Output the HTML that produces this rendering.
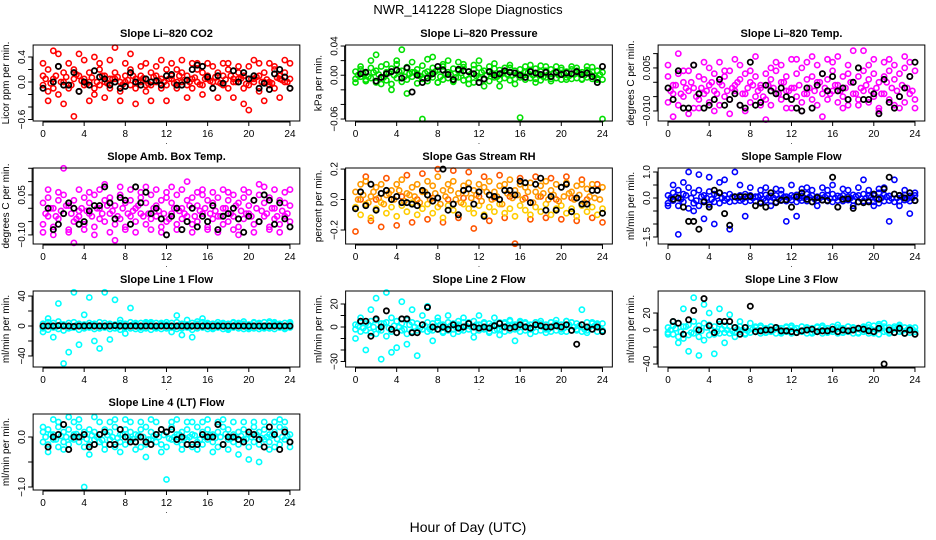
<!DOCTYPE html>
<html><head><meta charset="utf-8">
<style>
html,body{margin:0;padding:0;background:#fff;}
svg{display:block;font-family:"Liberation Sans",sans-serif;}
</style></head>
<body>
<svg id="chart" width="936" height="540" viewBox="0 0 936 540" xmlns="http://www.w3.org/2000/svg">
<rect width="936" height="540" fill="#fff"/>
<text x="468" y="14" text-anchor="middle" font-size="13">NWR_141228  Slope Diagnostics</text>
<text x="468" y="532" text-anchor="middle" font-size="14">Hour of Day (UTC)</text>
</svg>
<script>
const hours = [0,0.5,1,1.5,2,2.5,3,3.5,4,4.5,5,5.5,6,6.5,7,7.5,8,8.5,9,9.5,10,10.5,11,11.5,12,12.5,13,13.5,14,14.5,15,15.5,16,16.5,17,17.5,18,18.5,19,19.5,20,20.5,21,21.5,22,22.5,23,23.5,24];
const hoursMid = [0.25,0.75,1.25,1.75,2.25,2.75,3.25,3.75,4.25,4.75,5.25,5.75,6.25,6.75,7.25,7.75,8.25,8.75,9.25,9.75,10.25,10.75,11.25,11.75,12.25,12.75,13.25,13.75,14.25,14.75,15.25,15.75,16.25,16.75,17.25,17.75,18.25,18.75,19.25,19.75,20.25,20.75,21.25,21.75,22.25,22.75,23.25,23.75];
const xTicks = [0,4,8,12,16,20,24];
const xTickLabels = ["0","4","8","12","16","20","24"];

const titles = ["Slope Li\u2013820 CO2","Slope Li\u2013820 Pressure","Slope Li\u2013820 Temp.","Slope Amb. Box Temp.","Slope Gas Stream RH","Slope Sample Flow","Slope Line 1 Flow","Slope Line 2 Flow","Slope Line 3 Flow","Slope Line 4 (LT) Flow"];
const yLabels = ["Licor ppm per min.","kPa per min.","degrees C per min.","degrees C per min.","percent per min.","ml/min per min.","ml/min per min.","ml/min per min.","ml/min per min.","ml/min per min."];
const yRanges = [[-0.624,0.592],[-0.0627,0.0414],[-0.0135,0.013],[-0.134,0.151],[-0.292,0.207],[-1.77,1.154],[-54.7,46.7],[-34.8,31.3],[-43.5,45.9],[-1.06,0.46]];
const yTicks = [[-0.6,-0.4,-0.2,0,0.2,0.4],[-0.06,-0.04,-0.02,0,0.02,0.04],[-0.01,-0.005,0,0.005,0.01],[-0.1,-0.05,0,0.05,0.1,0.15],[-0.2,0,0.2],[-1.5,-1,-0.5,0,0.5,1],[-40,-20,0,20,40],[-30,-20,-10,0,10,20],[-40,-20,0,20],[-1,-0.5,0]];
const yTickLabels = [["\u22120.6","","","0.0","","0.4"],["\u22120.06","","","0.00","","0.04"],["\u22120.010","","","0.005",""],["\u22120.10","","","0.05","",""],["\u22120.2","0.0","0.2"],["\u22121.5","","","0.0","","1.0"],["\u221240","","0","","40"],["\u221230","","","0","","20"],["\u221240","","0","20"],["\u22121.0","","0.0"]];
const colorsA = ["#ff0000","#00e000","#ff00ff","#ff00ff","#ff9900","#0000ff","#00ffff","#00ffff","#00ffff","#00ffff"];
const colorsB = ["#ff0000","#00e000","#ff00ff","#ff00ff","#ffcc00","#0000ff","#00ffff","#00ffff","#00ffff","#00ffff"];
const colorsC = ["#ff0000","#00e000","#ff00ff","#ff00ff","#ff5500","#0000ff","#00ffff","#00ffff","#00ffff","#00ffff"];

const co2A = [0.1,0.2,-0.1,0.25,0.15,-0.05,0.2,0.1,0.05,0.15,-0.1,0.2,0.1,0.05,0.15,0.0,0.1,0.2,0.05,0.1,-0.05,0.15,0.1,0.05,0.2,0.1,0.0,0.15,0.1,0.05,0.2,0.15,0.1,0.0,0.15,0.1,0.2,0.05,0.15,0.1,0.25,0.05,0.1,0.15,0.0,0.2,0.1,0.15,0.05];
const co2B = [-0.05,-0.15,0.05,-0.2,0.0,-0.1,0.05,-0.15,-0.05,0.0,-0.2,-0.05,0.0,-0.1,0.05,-0.15,0.0,-0.05,-0.1,0.0,-0.15,-0.05,0.0,-0.1,-0.05,0.05,-0.1,0.0,-0.05,-0.1,0.0,-0.05,0.05,-0.1,0.0,-0.05,-0.1,0.0,0.05,-0.1,-0.05,0.0,-0.15,0.0,-0.05,-0.1,0.05,0.0,-0.1];
const co2C = [0.3,-0.3,0.5,0.45,-0.35,0.3,-0.55,0.45,0.35,-0.3,0.4,0.3,-0.25,0.35,0.55,-0.3,0.3,0.45,-0.35,0.25,0.3,-0.3,0.25,0.35,-0.3,0.3,0.2,0.35,-0.25,0.3,0.3,-0.2,0.3,0.25,-0.25,0.3,0.3,-0.25,0.25,-0.35,-0.45,0.35,0.3,-0.3,0.3,0.25,-0.25,0.35,0.3];
const co2D = [0.05,-0.02,0.1,0.0,0.08,-0.05,0.12,0.02,-0.03,0.07,0.0,0.1,-0.02,0.05,0.08,-0.04,0.03,0.1,0.0,0.06,-0.03,0.08,0.02,0.0,0.05,-0.02,0.1,0.03,0.0,0.07,-0.04,0.05,0.02,0.08,-0.02,0.04,0.1,0.0,0.06,-0.03,0.05,0.08,0.0,0.04,-0.02,0.07,0.03,0.0];
const co2K = [-0.1,null,0.0,0.25,-0.05,-0.05,0.15,-0.15,0.0,-0.05,0.18,0.08,0.05,-0.05,0.0,-0.1,-0.07,0.15,0.0,-0.05,0.05,0.0,0.02,-0.05,0.1,0.12,-0.05,-0.05,0.03,0.2,0.27,0.25,0.08,-0.1,0.1,-0.02,null,0.18,0.0,0.15,0.05,0.1,-0.1,-0.02,-0.12,0.13,0.2,0.08,-0.1];

const presA = [0.005,0.008,0.003,0.01,0.006,0.012,0.004,0.009,0.015,0.006,0.011,0.004,0.008,0.013,0.005,0.01,0.007,0.012,0.004,0.009,0.006,0.011,0.005,0.008,0.01,0.006,0.004,0.009,0.007,0.005,0.01,0.006,0.008,0.004,0.007,0.009,0.005,0.006,0.008,0.004,0.007,0.005,0.008,0.006,0.004,0.007,0.005,0.006,0.004];
const presB = [-0.005,-0.002,-0.008,-0.004,-0.01,-0.003,-0.007,-0.012,-0.004,-0.009,-0.006,-0.002,-0.011,-0.005,-0.008,-0.003,-0.01,-0.006,-0.004,-0.009,-0.003,-0.007,-0.005,-0.01,-0.004,-0.006,-0.008,-0.003,-0.006,-0.004,-0.007,-0.005,-0.003,-0.006,-0.004,-0.005,-0.007,-0.003,-0.005,-0.004,-0.006,-0.003,-0.005,-0.004,-0.006,-0.003,-0.005,-0.004,-0.006];
const presC = [-0.01,0.012,-0.006,0.02,0.028,-0.012,0.015,-0.02,0.02,0.035,-0.025,0.018,0.002,-0.06,0.022,0.025,-0.01,0.015,0.02,-0.008,0.018,0.015,-0.012,0.014,0.02,-0.015,0.012,0.016,-0.015,0.01,0.014,-0.012,-0.058,0.012,0.014,-0.01,0.013,0.012,-0.008,0.012,0.01,-0.006,0.012,0.01,-0.005,0.012,0.011,-0.006,-0.06];
const presD = [0.0,0.002,-0.002,0.004,0.001,-0.003,0.003,0.0,0.005,-0.002,0.002,0.004,-0.001,0.003,0.0,0.005,-0.002,0.002,0.001,-0.003,0.003,0.0,0.002,-0.001,0.004,0.0,0.002,-0.002,0.003,0.001,0.0,0.002,-0.001,0.003,0.0,0.002,-0.002,0.001,0.003,0.0,0.002,-0.001,0.001,0.003,0.0,0.002,-0.001,0.001];
const presK = [null,0.002,0.004,null,-0.008,-0.003,0.002,0.005,0.007,-0.004,0.01,-0.023,0.0,-0.01,-0.004,0.002,0.012,0.007,0.001,-0.006,0.008,0.006,0.005,0.002,-0.01,-0.005,0.005,0.0,0.002,0.006,0.004,0.003,0.0,-0.003,0.005,0.003,0.001,0.004,-0.002,0.004,0.001,0.003,0.002,0.005,0.001,0.003,-0.002,-0.01,0.012];

const tempA = [0.002,-0.001,0.003,0.0,0.004,-0.002,0.002,0.001,-0.001,0.003,0.0,0.002,0.004,-0.001,0.001,0.003,0.0,0.002,-0.001,0.003,0.001,0.004,0.0,0.002,-0.002,0.003,0.005,0.001,0.002,0.0,0.003,0.001,0.004,-0.001,0.002,0.003,0.0,0.002,0.004,0.001,0.003,0.0,0.002,0.004,0.001,0.003,0.005,0.002,0.004];
const tempB = [-0.007,-0.004,-0.008,-0.005,-0.003,-0.009,-0.006,-0.004,-0.007,-0.003,-0.008,-0.005,-0.006,-0.003,-0.008,-0.004,-0.007,-0.005,-0.002,-0.006,-0.008,-0.004,-0.006,-0.003,-0.009,-0.005,-0.007,-0.004,-0.006,-0.008,-0.004,-0.006,-0.003,-0.007,-0.005,-0.008,-0.004,-0.006,-0.003,-0.007,-0.005,-0.009,-0.004,-0.006,-0.008,-0.005,-0.007,-0.004,-0.006];
const tempC = [0.006,-0.012,0.01,0.004,-0.011,0.006,-0.009,0.007,0.005,-0.01,0.007,0.004,-0.011,0.008,0.006,-0.01,0.004,0.009,-0.008,-0.013,0.005,0.007,0.006,-0.009,0.008,0.008,-0.01,0.007,0.009,0.006,-0.012,0.008,0.007,0.009,-0.009,0.006,0.011,-0.008,0.011,0.006,0.008,-0.01,0.007,0.008,0.006,-0.009,0.009,0.007,-0.009];
const tempD = [-0.003,-0.001,-0.004,-0.002,0.0,-0.005,-0.002,-0.003,0.0,-0.004,-0.001,-0.003,-0.002,0.0,-0.004,-0.002,-0.001,-0.003,-0.005,-0.001,-0.002,-0.004,0.0,-0.003,-0.002,-0.001,-0.004,-0.002,-0.003,0.0,-0.002,-0.004,-0.001,-0.003,-0.002,0.0,-0.004,-0.002,-0.001,-0.003,-0.002,-0.004,0.0,-0.002,-0.003,-0.001,-0.002,-0.003];
const tempK = [-0.002,-0.006,0.004,-0.009,-0.009,0.006,-0.004,-0.009,-0.008,-0.006,0.001,-0.008,-0.006,-0.004,-0.008,-0.009,0.007,-0.008,-0.007,-0.001,-0.003,-0.004,-0.002,-0.005,-0.006,-0.009,-0.01,-0.002,-0.009,-0.001,0.003,-0.003,0.002,-0.003,-0.002,-0.006,0.0,0.005,-0.006,-0.006,-0.004,-0.011,0.001,-0.007,-0.009,-0.005,-0.002,0.002,0.007];

const ambA = [0.02,0.04,0.0,0.03,0.05,0.01,0.03,-0.01,0.04,0.02,0.05,0.0,0.03,0.04,0.01,0.05,0.02,0.03,0.0,0.04,0.02,0.05,0.01,0.03,0.04,0.02,0.05,0.0,0.03,0.04,0.01,0.05,0.03,0.02,0.04,0.0,0.03,0.05,0.02,0.04,0.01,0.03,0.05,0.02,0.04,0.0,0.03,0.02,0.01];
const ambB = [-0.06,-0.03,-0.07,-0.04,-0.02,-0.08,-0.05,-0.03,-0.06,-0.02,-0.07,-0.04,-0.05,-0.02,-0.06,-0.04,-0.07,-0.03,-0.05,-0.02,-0.06,-0.04,-0.03,-0.07,-0.05,-0.02,-0.06,-0.04,-0.03,-0.06,-0.05,-0.02,-0.07,-0.04,-0.03,-0.06,-0.05,-0.03,-0.07,-0.04,-0.02,-0.06,-0.05,-0.03,-0.07,-0.04,-0.06,-0.03,-0.05];
const ambC = [-0.09,0.07,-0.1,0.06,0.15,-0.09,-0.13,0.07,-0.08,0.06,-0.1,0.07,0.09,-0.09,-0.12,0.08,-0.08,0.07,-0.09,0.06,0.08,-0.08,0.07,-0.09,0.06,0.08,-0.08,0.07,0.1,-0.09,0.06,0.07,-0.08,0.06,-0.09,0.07,0.06,-0.08,-0.1,0.07,0.06,-0.09,0.09,0.08,-0.08,0.07,-0.09,0.06,0.07];
const ambD = [-0.02,0.0,-0.03,-0.01,0.01,-0.02,-0.04,0.0,-0.01,-0.03,0.0,-0.02,0.01,-0.01,-0.03,0.0,-0.02,-0.01,0.01,-0.03,-0.02,0.0,-0.01,-0.02,-0.04,0.0,-0.01,-0.02,0.01,-0.03,-0.01,0.0,-0.02,-0.01,-0.03,0.0,-0.02,0.01,-0.01,-0.02,-0.03,0.0,-0.01,-0.02,0.0,-0.03,-0.01,-0.02];
const ambK = [null,0.0,-0.08,-0.06,-0.02,0.02,0.0,-0.06,-0.05,-0.01,0.01,0.01,0.08,0.02,-0.04,0.04,0.03,-0.06,0.08,0.02,0.06,-0.02,0.0,-0.04,-0.1,-0.03,0.0,-0.08,-0.05,0.0,-0.07,-0.03,-0.05,0.01,-0.08,-0.03,-0.02,0.0,-0.04,-0.09,-0.03,0.03,-0.05,0.05,0.03,-0.06,0.02,-0.04,-0.07];

const rhA = [0.05,0.1,0.12,0.02,0.08,0.1,0.03,0.06,0.1,0.13,0.04,0.08,0.1,0.05,0.12,0.09,0.15,0.06,0.1,0.12,0.04,0.09,0.11,0.06,0.1,0.08,0.12,0.05,0.09,0.1,0.13,0.06,0.1,0.08,0.11,0.05,0.09,0.12,0.06,0.1,0.08,0.11,0.05,0.09,0.1,0.07,0.1,0.06,0.08];
const rhB = [-0.05,-0.1,-0.03,-0.12,-0.06,-0.02,-0.09,-0.05,-0.11,-0.04,-0.08,-0.02,-0.1,-0.06,-0.03,-0.09,-0.05,-0.12,-0.04,-0.07,-0.1,-0.03,-0.06,-0.09,-0.04,-0.1,-0.05,-0.08,-0.03,-0.09,-0.06,-0.11,-0.04,-0.07,-0.1,-0.05,-0.08,-0.03,-0.1,-0.06,-0.04,-0.09,-0.06,-0.11,-0.04,-0.08,-0.05,-0.1,-0.06];
const rhC = [-0.21,0.0,0.15,-0.14,0.0,-0.18,0.14,0.0,-0.17,0.02,0.16,-0.15,0.0,0.17,-0.13,0.01,0.2,-0.15,0.0,0.19,-0.12,0.01,0.18,-0.19,0.02,0.15,-0.14,0.01,0.16,-0.12,0.02,-0.29,0.14,0.01,-0.13,0.15,0.02,-0.12,0.14,0.0,-0.13,0.15,0.01,-0.14,0.13,0.0,-0.12,0.1,-0.15];
const rhD = [0.0,0.03,-0.02,0.05,0.01,-0.03,0.04,0.0,0.06,-0.01,0.03,0.02,-0.02,0.05,0.0,0.04,-0.03,0.02,0.06,0.0,-0.02,0.04,0.01,0.03,-0.01,0.05,0.0,0.02,-0.03,0.04,0.01,0.03,0.0,0.05,-0.02,0.02,0.04,0.0,0.03,-0.01,0.02,0.04,0.0,0.03,-0.02,0.02,0.01,0.0];
const rhK = [-0.06,0.05,-0.04,0.1,-0.07,0.04,0.06,0.0,0.02,-0.02,-0.02,-0.03,-0.04,0.06,0.03,-0.01,0.01,0.2,-0.07,-0.03,-0.1,0.06,0.07,-0.03,0.05,-0.11,0.03,0.02,0.0,0.06,0.06,0.03,0.12,0.11,-0.02,0.1,0.14,-0.07,0.02,-0.07,0.08,0.1,-0.08,0.01,-0.03,-0.03,0.06,0.06,-0.09];

const sfA = [0.1,0.2,0.3,0.15,0.4,0.2,0.3,0.1,0.25,0.15,0.2,0.1,0.15,0.05,0.1,0.15,0.1,0.05,0.1,0.12,0.08,0.1,0.15,0.05,0.1,0.12,0.08,0.15,0.1,0.05,0.12,0.1,0.15,0.08,0.1,0.05,0.12,0.1,0.15,0.08,0.1,0.2,0.12,0.08,0.15,0.1,0.12,0.08,0.1];
const sfB = [-0.2,-0.1,-0.3,-0.15,-0.4,-0.2,-0.3,-0.1,-0.25,-0.15,-0.2,-0.1,-0.15,-0.12,-0.1,-0.15,-0.1,-0.12,-0.15,-0.1,-0.12,-0.15,-0.1,-0.12,-0.08,-0.15,-0.1,-0.12,-0.15,-0.1,-0.08,-0.12,-0.15,-0.1,-0.12,-0.08,-0.1,-0.15,-0.12,-0.1,-0.15,-0.2,-0.12,-0.1,-0.15,-0.12,-0.08,-0.12,-0.1];
const sfC = [-0.3,0.5,-1.4,0.6,1.0,-0.5,0.9,-0.8,0.8,-1.0,0.6,0.7,-1.2,1.0,0.5,-0.7,0.4,-1.8,0.3,0.4,-0.3,0.35,0.3,-0.9,0.5,-0.7,0.35,0.4,0.3,-0.3,0.4,0.3,0.5,-0.35,0.35,0.3,-0.3,0.4,0.7,0.3,-0.3,0.35,0.4,-0.9,0.7,-0.3,0.3,-0.6,0.2];
const sfD = [0.0,0.05,-0.05,0.1,0.0,-0.1,0.05,0.0,-0.05,0.08,0.0,-0.03,0.04,0.0,-0.04,0.03,0.0,0.05,-0.03,0.02,0.0,-0.04,0.03,0.0,0.05,-0.02,0.0,0.03,-0.04,0.0,0.04,-0.02,0.0,0.03,-0.03,0.0,0.05,-0.02,0.0,0.03,-0.04,0.0,0.04,-0.02,0.0,0.03,-0.03,0.0];
const sfK = [null,-0.05,0.0,-0.35,-0.9,-0.9,-1.2,-0.15,-0.35,0.3,0.2,-0.6,-1.05,0.05,0.05,0.05,0.06,-0.3,-0.2,-0.35,0.2,-0.18,-0.08,-0.07,-0.35,0.05,0.2,-0.05,-0.15,0.02,-0.08,-0.1,0.8,-0.35,-0.05,-0.03,-0.4,-0.15,-0.18,-0.15,0.15,-0.05,0.35,0.8,0.15,0.1,0.0,0.2,-0.1];

const l1A = [3,5,4,6,2,4,5,3,2,4,3,5,4,3,2,4,3,5,2,4,3,5,4,3,2,4,5,3,2,4,3,5,4,3,2,4,3,5,4,3,2,4,3,5,4,3,2,4,3];
const l1B = [-3,-5,-2,-4,-6,-3,-2,-5,-3,-2,-4,-3,-2,-4,-3,-5,-2,-3,-4,-2,-3,-5,-2,-4,-3,-2,-4,-3,-2,-5,-3,-2,-4,-3,-2,-4,-3,-2,-3,-4,-2,-3,-4,-2,-3,-4,-2,-3,-2];
const l1C = [-8,10,-15,30,-50,-35,45,-25,15,38,-20,-30,45,-18,35,8,-10,24,4,-5,5,3,-3,4,5,-8,14,-12,8,-15,6,10,3,-4,5,3,-5,4,3,6,-4,5,4,-3,6,5,3,-4,5];
const l1D = [0,1,-1,2,0,-2,1,0,-1,2,0,-1,1,0,-2,1,0,2,-1,0,1,-1,0,2,0,-1,1,0,-2,1,0,2,-1,0,1,-1,0,2,0,-1,1,0,-2,1,0,2,-1,0];
const l1K = [0,0,0,0.5,0,0,-0.5,0,0,0.3,0,0,0,0,0.5,0,0,0,0,0,0,0,0,0,0,0,0,0,0,0,0,0,0,0,0,0,0,0,0,0,0,0,0,0,0,0,0,0,0];

const l2A = [2,4,3,5,6,3,4,8,5,3,6,4,3,2,4,3,5,2,4,3,2,4,3,5,2,4,3,2,4,3,5,2,4,3,2,4,3,2,4,3,2,5,4,3,2,4,3,2,3];
const l2B = [-2,-4,-3,-5,-6,-3,-8,-4,-5,-3,-6,-4,-3,-2,-4,-3,-2,-4,-3,-2,-4,-3,-2,-4,-3,-2,-4,-3,-2,-4,-3,-2,-4,-3,-2,-4,-3,-2,-4,-3,-2,-4,-3,-2,-4,-3,-2,-4,-3];
const l2C = [-10,8,-20,15,25,-28,30,-22,-18,22,-15,15,-25,10,18,-12,8,-5,10,-6,5,8,4,-9,10,3,-5,8,-7,4,6,-12,5,4,-6,4,5,-5,4,6,-4,5,4,-3,15,-5,4,3,-3];
const l2D = [1,-1,2,0,-2,3,-1,1,0,-2,2,0,-1,1,-2,0,2,-1,1,0,-2,1,0,2,-1,0,1,-2,0,1,2,-1,0,1,-1,2,0,-2,1,0,-1,2,0,1,-2,0,1,-1];
const l2K = [null,5,5,-8,7,0,14,-2,-5,7,7,-5,-5,2,17,0,-2,0,-2,2,-1,0,3,0,-1,0,-1,1,3,0,-1,0,2,0,-1,2,1,0,0,1,0,2,-3,-15,2,0,-2,0,-4];

const l3A = [3,5,8,4,6,10,5,8,6,4,7,5,4,3,4,3,2,4,3,2,4,3,2,4,3,2,4,3,2,4,3,2,4,3,2,4,3,2,4,3,5,7,4,3,2,4,3,2,3];
const l3B = [-3,-5,-8,-10,-6,-4,-8,-12,-6,-5,-4,-3,-4,-3,-2,-4,-3,-2,-4,-3,-2,-4,-3,-2,-4,-3,-2,-4,-3,-2,-4,-3,-2,-4,-3,-2,-4,-3,-2,-4,-3,-5,-2,-4,-3,-2,-4,-3,-2];
const l3C = [-5,10,-15,25,-25,38,-30,30,20,-28,25,-15,18,-8,10,-5,8,3,5,-3,4,3,-4,3,5,-3,4,3,-4,3,5,-3,4,6,-3,4,3,-4,3,6,-4,5,8,-3,4,6,-4,3,-2];
const l3D = [0,2,-2,4,-3,1,-1,3,0,-2,1,0,-1,1,0,-1,1,0,-1,1,0,2,-1,0,1,-1,0,1,-2,0,1,-1,0,2,-1,0,1,0,-1,1,0,2,-1,0,1,-1,0,1];
const l3K = [null,10,8,-5,12,23,0,37,5,-3,10,10,10,3,-5,3,28,-2,-1,0,0,3,-1,-1,-2,-3,-1,0,1,-2,-1,-1,1,-2,0,-1,0,2,1,-1,-2,2,-40,0,-3,2,-4,0,-5];

const l4A = [0.1,0.15,0.05,0.2,0.1,0.15,0.05,0.2,0.1,0.15,0.1,0.05,0.15,0.1,0.2,0.05,0.15,0.1,0.05,0.15,0.2,0.1,0.05,0.15,0.1,0.2,0.05,0.1,0.15,0.05,0.2,0.1,0.15,0.05,0.1,0.2,0.15,0.05,0.1,0.15,0.05,0.2,0.1,0.15,0.05,0.1,0.2,0.15,0.05];
const l4B = [-0.1,-0.15,-0.05,-0.2,-0.1,-0.15,-0.05,-0.1,-0.2,-0.15,-0.05,-0.1,-0.15,-0.05,-0.2,-0.1,-0.15,-0.05,-0.1,-0.2,-0.15,-0.05,-0.1,-0.15,-0.2,-0.05,-0.1,-0.15,-0.05,-0.2,-0.1,-0.15,-0.05,-0.1,-0.2,-0.15,-0.05,-0.1,-0.15,-0.05,-0.2,-0.1,-0.15,-0.05,-0.1,-0.2,-0.15,-0.05,-0.1];
const l4C = [0.2,-0.3,0.35,0.3,-0.25,0.4,0.3,0.35,-1.0,-0.35,0.4,0.3,-0.25,0.3,0.35,-0.3,0.35,0.3,-0.25,0.3,-0.4,0.35,0.3,-0.3,-0.85,0.3,0.35,-0.25,0.3,0.3,-0.25,0.3,0.35,-0.3,0.3,0.35,-0.25,0.3,-0.35,0.3,-0.45,0.3,-0.5,0.3,-0.25,0.3,0.35,0.3,-0.2];
const l4D = [0.0,0.05,-0.05,0.02,0.0,-0.03,0.06,0.0,-0.04,0.03,0.0,-0.06,0.04,0.0,-0.02,0.05,0.0,-0.04,0.03,0.0,-0.05,0.02,0.0,0.04,-0.03,0.0,0.05,-0.02,0.0,0.03,-0.05,0.0,0.04,-0.02,0.0,0.06,-0.03,0.0,0.02,-0.04,0.0,0.05,-0.02,0.0,0.03,-0.04,0.0,0.02];
const l4K = [null,-0.2,0.0,0.05,0.25,-0.25,0.0,0.0,0.05,-0.2,-0.15,0.05,0.1,-0.15,-0.15,0.15,0.0,-0.1,-0.1,0.0,-0.1,-0.15,0.05,0.15,0.1,0.15,-0.05,0.0,-0.15,-0.15,-0.15,0.05,0.0,0.0,0.25,-0.15,0.0,0.0,-0.05,-0.1,0.1,0.05,-0.05,-0.2,0.2,0.05,-0.25,0.1,-0.1];

const seriesA = [co2A,presA,tempA,ambA,rhA,sfA,l1A,l2A,l3A,l4A];
const seriesB = [co2B,presB,tempB,ambB,rhB,sfB,l1B,l2B,l3B,l4B];
const seriesC = [co2C,presC,tempC,ambC,rhC,sfC,l1C,l2C,l3C,l4C];
const seriesD = [co2D,presD,tempD,ambD,rhD,sfD,l1D,l2D,l3D,l4D];
const seriesK = [co2K,presK,tempK,ambK,rhK,sfK,l1K,l2K,l3K,l4K];
const panelIds = ["co2","pressure","licor-temp","amb-box-temp","gas-rh","sample-flow","line1-flow","line2-flow","line3-flow","line4-flow"];

const NS = "http://www.w3.org/2000/svg";
const svg = document.getElementById('chart');
function mk(tag, attrs, parent){
  const e = document.createElementNS(NS, tag);
  for (const k in attrs) e.setAttribute(k, attrs[k]);
  parent.appendChild(e);
  return e;
}
const col0 = [43, 355.5, 668];
const pxH = 10.29;

for (let p = 0; p < 10; p++) {
  const col = p % 3, row = Math.floor(p / 3);
  const x0 = col0[col];
  const left = x0 - 0.96 * pxH, right = x0 + 24.96 * pxH;
  const top = 45 + 123 * row, bottom = top + 76;
  const [ymin, ymax] = yRanges[p];
  const xs = h => x0 + h * pxH;
  const ys = v => bottom - (v - ymin) / (ymax - ymin) * (bottom - top);

  const g = mk('g', {}, svg);
  
  

  const t = mk('text', {x: (left + right) / 2, y: top - 8, 'text-anchor': 'middle', 'font-size': 11, 'font-weight': 'bold'}, g);
  t.textContent = titles[p];
  
  

  const yl = mk('text', {x: 0, y: 0, 'text-anchor': 'middle', 'font-size': 10, transform: `translate(${left - 24},${(top + bottom) / 2}) rotate(-90)`}, g);
  yl.textContent = yLabels[p];
  
  

  const pg = mk('g', {fill: 'none'}, g);
  
  
  const groups = [[seriesC[p], colorsC[p], hours], [seriesA[p], colorsA[p], hours], [seriesB[p], colorsB[p], hours], [seriesD[p], colorsA[p], hoursMid]];
  groups.forEach(([arr, c, hx]) => {
    arr.forEach((v, i) => {
      if (v === null || i >= hx.length) return;
      const yv = ys(v);
      if (yv < top || yv > bottom) return;
      const ci = mk('circle', {cx: xs(hx[i]).toFixed(1), cy: yv.toFixed(1), r: 2.6, stroke: c, 'stroke-width': 1.6}, pg);
      
      
    });
  });
  seriesK[p].forEach((v, i) => {
    if (v === null || i >= hours.length) return;
    const yv = ys(v);
    if (yv < top || yv > bottom) return;
    const ci = mk('circle', {cx: xs(hours[i]).toFixed(1), cy: yv.toFixed(1), r: 2.6, stroke: '#000', 'stroke-width': 1.8}, pg);
    
    
  });

  const box = mk('rect', {x: left, y: top, width: right - left, height: bottom - top, fill: 'none', stroke: '#000', 'stroke-width': 1}, g);
  
  

  const xa = mk('g', {}, g);
  
  
  mk('line', {x1: xs(xTicks[0]), x2: xs(xTicks[xTicks.length - 1]), y1: bottom + 1, y2: bottom + 1, stroke: '#000'}, xa);
  xTicks.forEach((h, i) => {
    mk('line', {x1: xs(h), x2: xs(h), y1: bottom, y2: bottom + 5, stroke: '#000'}, xa);
    const tl = mk('text', {x: xs(h), y: bottom + 16, 'text-anchor': 'middle', 'font-size': 10}, xa);
    tl.textContent = xTickLabels[i];
    
    
  });
  const dot = mk('text', {x: (left + right) / 2, y: bottom + 23, 'text-anchor': 'middle', 'font-size': 8}, xa);
  dot.textContent = '.';

  const ya = mk('g', {}, g);
  
  
  const yt = yTicks[p];
  mk('line', {x1: left - 1, x2: left - 1, y1: ys(yt[0]), y2: ys(yt[yt.length - 1]), stroke: '#000'}, ya);
  yt.forEach((v, i) => {
    const yy = ys(v);
    mk('line', {x1: left - 5, x2: left, y1: yy, y2: yy, stroke: '#000'}, ya);
    const lab = yTickLabels[p][i];
    if (lab) {
      const tl = mk('text', {x: 0, y: 0, 'text-anchor': 'middle', 'font-size': 10, transform: `translate(${left - 8},${yy}) rotate(-90)`}, ya);
      tl.textContent = lab;
      
      
    }
  });
}
</script>
</body></html>
